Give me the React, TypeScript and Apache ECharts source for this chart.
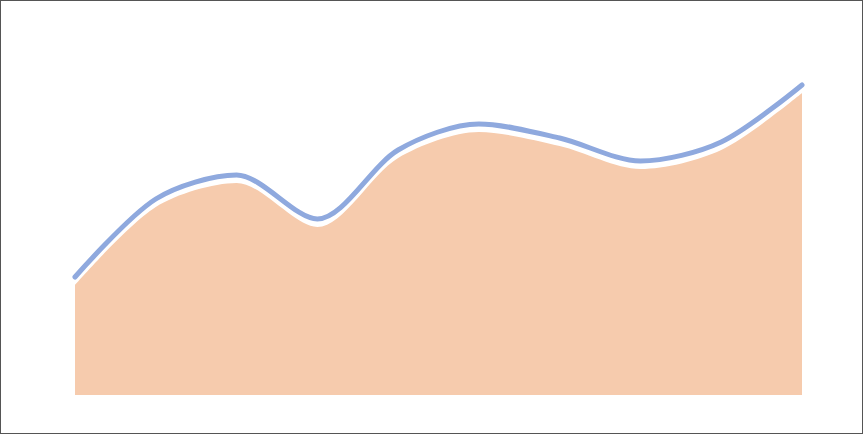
import React, { useEffect, useRef } from "react";
import * as echarts from "echarts";

const categories = ["1", "2", "3", "4", "5", "6", "7", "8", "9", "10"];
const lineValues = [118, 196, 220, 176, 245, 271, 257, 234, 253, 310];
const areaValues = [110, 188, 212, 168, 237, 263, 249, 226, 245, 302];

export default function App() {
  const ref = useRef<HTMLDivElement>(null);
  useEffect(() => {
    if (!ref.current) return;
    const chart = echarts.init(ref.current, null, { renderer: "svg" });
    chart.setOption({
      animation: false,
      grid: { left: 74, right: 60, top: 34, bottom: 38 },
      xAxis: {
        type: "category",
        data: categories,
        boundaryGap: false,
        show: false,
      },
      yAxis: { type: "value", min: 0, max: 360, show: false },
      series: [
        {
          type: "line",
          data: areaValues,
          smooth: 0.3,
          symbol: "none",
          lineStyle: { width: 0 },
          areaStyle: { color: "#f6cbad", opacity: 1 },
          z: 1,
        },
        {
          type: "line",
          data: lineValues,
          smooth: 0.3,
          symbol: "none",
          lineStyle: { width: 5, color: "#8fa9de", cap: "round", join: "round" },
          z: 2,
        },
      ],
    });
    return () => chart.dispose();
  }, []);
  return (
    <div
      style={{
        position: "absolute",
        left: 0,
        top: 0,
        width: 863,
        height: 434,
        boxSizing: "border-box",
        border: "1px solid #555",
        background: "#fff",
      }}
    >
      <div ref={ref} style={{ width: 861, height: 432 }} />
    </div>
  );
}
